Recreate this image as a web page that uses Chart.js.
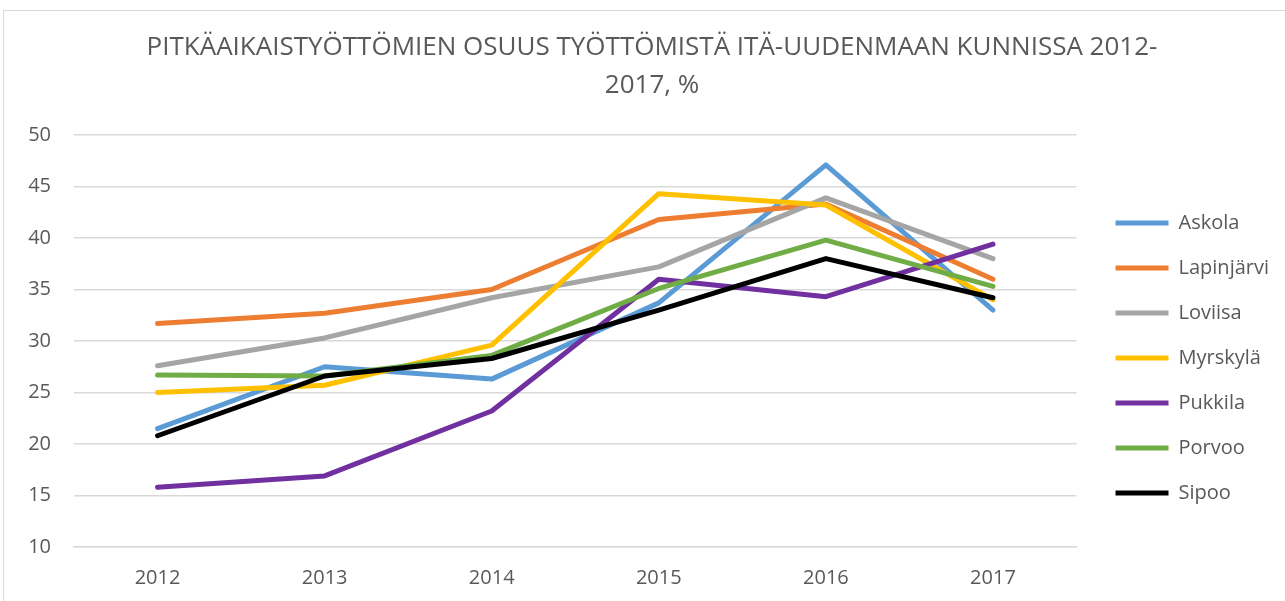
<!DOCTYPE html>
<html><head><meta charset="utf-8">
<script src="https://cdn.jsdelivr.net/npm/chart.js@4/dist/chart.umd.min.js"></script>
<style>html,body{margin:0;padding:0;background:#fff;}#wrap{width:1285px;height:601px;position:relative;}</style>
</head><body><div id="wrap"><canvas id="c" width="1285" height="601"></canvas></div>
<script>
const years = ['2012','2013','2014','2015','2016','2017'];
const askola = [21.5, 27.5, 26.3, 33.7, 47.1, 33.0];
const lapinjarvi = [31.7, 32.7, 35.0, 41.8, 43.3, 36.0];
const loviisa = [27.6, 30.3, 34.2, 37.2, 43.9, 38.0];
const myrskyla = [25.0, 25.7, 29.6, 44.3, 43.2, 34.0];
const pukkila = [15.8, 16.9, 23.2, 36.0, 34.3, 39.4];
const porvoo = [26.7, 26.6, 28.6, 35.1, 39.8, 35.3];
const sipoo = [20.8, 26.6, 28.3, 33.0, 38.0, 34.2];
const seriesNames = ['Askola','Lapinjärvi','Loviisa','Myrskylä','Pukkila','Porvoo','Sipoo'];
const seriesValues = [askola, lapinjarvi, loviisa, myrskyla, pukkila, porvoo, sipoo];
const colors = ['#5B9BD5','#ED7D31','#A5A5A5','#FFC000','#7030A0','#70AD47','#000000'];
const titleLines = ['PITKÄAIKAISTYÖTTÖMIEN OSUUS TYÖTTÖMISTÄ ITÄ-UUDENMAAN KUNNISSA 2012-', '2017, %'];

const FONT = '"Open Sans", "Noto Sans", sans-serif';
const TXT = '#595959';

const framePlugin = {
  id: 'frame',
  beforeDraw(chart) {
    const ctx = chart.ctx;
    ctx.save();
    ctx.fillStyle = '#fff';
    ctx.fillRect(0, 0, chart.width, chart.height);
    ctx.strokeStyle = '#d9d9d9';
    ctx.lineWidth = 1;
    ctx.strokeRect(3.5, 10.5, chart.width + 10, chart.height + 10);
    ctx.restore();
  },
  afterLayout(chart) {
    const lg = chart.legend;
    if (lg) {
      const dx = 14, dy = 54;
      lg.left += dx; lg.right += dx;
      lg.top += dy; lg.bottom += dy;
    }
    const tb = chart.titleBlock;
    if (tb) {
      tb.left += 14; tb.right += 14;
    }
  }
};

new Chart(document.getElementById('c'), {
  type: 'line',
  data: {
    labels: years,
    datasets: seriesNames.map((n, i) => ({
      label: n,
      data: seriesValues[i],
      borderColor: colors[i],
      backgroundColor: colors[i],
      borderWidth: 5,
      borderCapStyle: 'round',
      borderJoinStyle: 'round',
      pointRadius: 0,
      tension: 0,
      fill: false,
      order: seriesNames.length - i
    }))
  },
  options: {
    responsive: false,
    animation: false,
    devicePixelRatio: 1,
    layout: { padding: { left: 11, right: 20, top: 18, bottom: 11 } },
    plugins: {
      title: {
        display: true,
        text: titleLines,
        color: TXT,
        font: { family: FONT, size: 26, weight: 'normal', lineHeight: 38 / 26 },
        padding: { top: 11, bottom: 30 }
      },
      legend: {
        position: 'right',
        labels: {
          color: TXT,
          font: { family: FONT, size: 20 },
          boxWidth: 53,
          boxHeight: 5,
          padding: 25,
          sort: (a, b) => a.datasetIndex - b.datasetIndex,
          generateLabels(chart) {
            return chart.data.datasets.map((d, i) => ({
              text: d.label,
              fillStyle: d.borderColor,
              strokeStyle: d.borderColor,
              lineWidth: 0,
              fontColor: TXT,
              datasetIndex: i,
              hidden: false
            }));
          }
        }
      },
      tooltip: { enabled: false }
    },
    scales: {
      x: {
        offset: true,
        grid: { display: false, drawTicks: false },
        border: { display: true, color: '#d9d9d9', width: 1.5 },
        ticks: { color: TXT, font: { family: FONT, size: 20 }, padding: 19 },
        afterFit(s) { s.height = 43; }
      },
      y: {
        min: 10, max: 50,
        ticks: { stepSize: 5, color: TXT, font: { family: FONT, size: 20 }, padding: 23 },
        grid: { color: '#d9d9d9', lineWidth: 1.5, drawTicks: false },
        border: { display: false },
        afterFit(s) { s.width = 63; }
      }
    }
  },
  plugins: [framePlugin]
});
</script></body></html>
